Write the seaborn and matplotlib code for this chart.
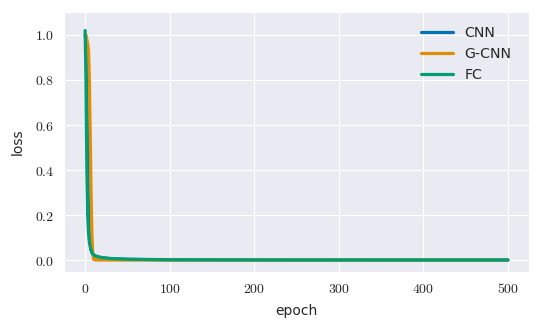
import numpy as np
import pandas as pd
import seaborn as sns
from matplotlib import pyplot as plt

epochs = [0, 1, 2, 3, 4, 5, 6, 7, 8, 9, 10, 12, 15, 20, 30, 50, 100, 200, 300, 400, 500]
cnn = [1.00, 0.97, 0.80, 0.45, 0.22, 0.12, 0.07, 0.045, 0.033, 0.027, 0.023, 0.018, 0.014, 0.010, 0.006, 0.003, 0.001, 0.0005, 0.0003, 0.0002, 0.0002]
gcnn = [1.00, 1.00, 0.98, 0.96, 0.93, 0.80, 0.55, 0.30, 0.12, 0.03, 0.003, 0.001, 0.0005, 0.0003, 0.0002, 0.0001, 0.0001, 0.0001, 0.0001, 0.0001, 0.0001]
fc = [1.02, 0.80, 0.40, 0.20, 0.12, 0.08, 0.06, 0.045, 0.035, 0.028, 0.024, 0.019, 0.015, 0.011, 0.007, 0.004, 0.0015, 0.0006, 0.0004, 0.0003, 0.0003]
names = ['CNN', 'G-CNN', 'FC']

# faint spread of FC around its first epochs
band_epochs = [0, 1, 2]
fc_lo = [0.99, 0.76, 0.37]
fc_hi = [1.05, 0.84, 0.43]

sns.set_style('darkgrid', {'grid.linewidth': 1.3})
colors = sns.color_palette('colorblind')[:3]

df = pd.DataFrame({
    'epoch': epochs * 3,
    'loss': cnn + gcnn + fc,
    'model': [n for n in names for _ in epochs],
})

fig, ax = plt.subplots(figsize=(5.4, 3.3), dpi=100)
ax.fill_between(band_epochs, fc_lo, fc_hi, color=colors[2], alpha=0.2, linewidth=0)
sns.lineplot(data=df, x='epoch', y='loss', hue='model', palette=colors, linewidth=2.3, ax=ax)

ax.set_xlim(-25, 525)
ax.set_ylim(-0.053, 1.102)
xt = [0, 100, 200, 300, 400, 500]
yt = [0.0, 0.2, 0.4, 0.6, 0.8, 1.0]
ax.set_xticks(xt, ['$%d$' % v for v in xt], math_fontfamily='cm')
ax.set_yticks(yt, ['$%.1f$' % v for v in yt], math_fontfamily='cm')
ax.set_xlabel('epoch', labelpad=6)
ax.set_ylabel('loss', labelpad=7)
ax.legend(frameon=False, loc='upper right', bbox_to_anchor=(0.99, 0.995), fontsize=10.2, handlelength=2.3)

fig.subplots_adjust(left=64 / 540, right=529 / 540, top=1 - 12 / 330, bottom=1 - 272 / 330)
plt.savefig('out.png')
